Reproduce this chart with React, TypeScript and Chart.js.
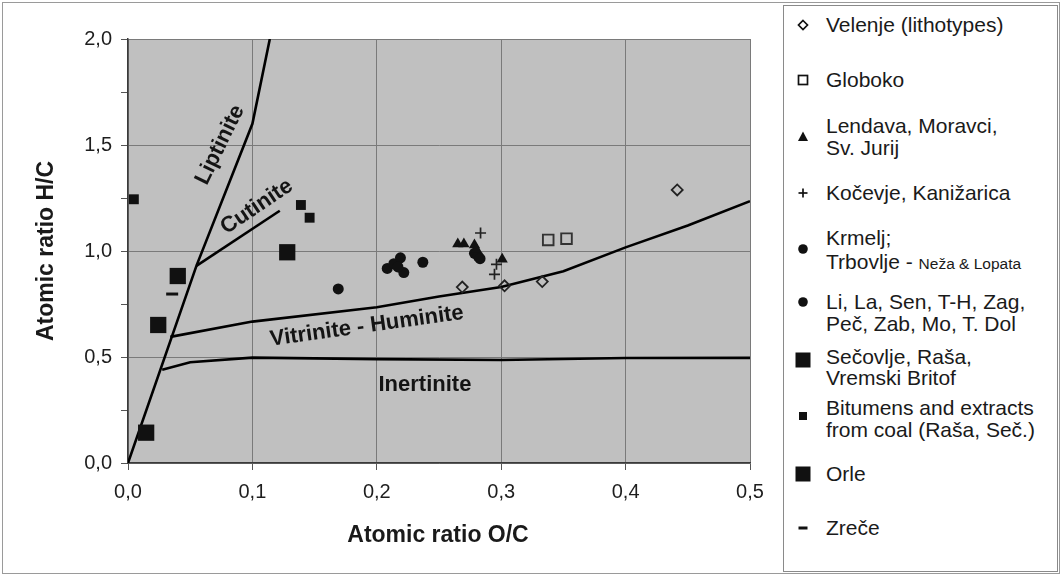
import React, { useEffect, useRef } from 'react';
import { Chart, registerables } from 'chart.js';
Chart.register(...registerables);

// ---- data (atomic ratios O/C = x, H/C = y) ----
const velenje = [{ x: 0.2687, y: 0.830 }, { x: 0.3027, y: 0.836 }, { x: 0.333, y: 0.856 }, { x: 0.4415, y: 1.288 }];
const globoko = [{ x: 0.3378, y: 1.052 }, { x: 0.3525, y: 1.058 }];
const lendava = [{ x: 0.2651, y: 1.033 }, { x: 0.2700, y: 1.033 }, { x: 0.2785, y: 1.028 }, { x: 0.2800, y: 1.008 }, { x: 0.3008, y: 0.961 }];
const kocevje = [{ x: 0.2834, y: 1.085 }, { x: 0.2962, y: 0.937 }, { x: 0.2946, y: 0.890 }];
const krmelj = [{ x: 0.2785, y: 0.989 }, { x: 0.2815, y: 0.975 }, { x: 0.2830, y: 0.964 }];
const liLa = [{ x: 0.169, y: 0.821 }, { x: 0.2084, y: 0.918 }, { x: 0.2137, y: 0.940 }, { x: 0.2190, y: 0.968 }, { x: 0.2217, y: 0.898 }, { x: 0.2170, y: 0.925 }, { x: 0.2370, y: 0.947 }];
const secovlje = [{ x: 0.0146, y: 0.143 }, { x: 0.0243, y: 0.651 }, { x: 0.0400, y: 0.882 }];
const bitumens = [{ x: 0.0047, y: 1.244 }, { x: 0.139, y: 1.217 }, { x: 0.146, y: 1.157 }];
const orle = [{ x: 0.128, y: 0.994 }];
const zrece = [{ x: 0.0355, y: 0.797 }];

// ---- maceral evolution curves ----
const liptiniteLine = [{ x: 0, y: 0 }, { x: 0.055, y: 0.93 }, { x: 0.1, y: 1.6 }, { x: 0.114, y: 2.0 }];
const cutiniteLine = [{ x: 0.055, y: 0.93 }, { x: 0.122, y: 1.19 }];
const vitriniteLine = [{ x: 0.034, y: 0.595 }, { x: 0.1, y: 0.667 }, { x: 0.2, y: 0.735 }, { x: 0.25, y: 0.785 }, { x: 0.3, y: 0.83 }, { x: 0.35, y: 0.905 }, { x: 0.4, y: 1.017 }, { x: 0.45, y: 1.12 }, { x: 0.5, y: 1.235 }];
const inertiniteLine = [{ x: 0.0275, y: 0.44 }, { x: 0.05, y: 0.475 }, { x: 0.1, y: 0.497 }, { x: 0.2, y: 0.49 }, { x: 0.3, y: 0.486 }, { x: 0.4, y: 0.495 }, { x: 0.5, y: 0.496 }];

// curve labels: text, x, y (data units), rotation (deg)
const curveLabels: [string, number, number, number][] = [
  ['Liptinite', 0.074, 1.5, -64],
  ['Cutinite', 0.1035, 1.209, -34],
  ['Vitrinite - Huminite', 0.192, 0.645, -8],
  ['Inertinite', 0.2387, 0.368, 0],
];

const xTitle = 'Atomic ratio O/C';
const yTitle = 'Atomic ratio H/C';

const FONT = '"Liberation Sans", Arial, sans-serif';

const fmt = (v: number) => v.toFixed(1).replace('.', ',');
const isHalf = (v: number) => Math.abs(v * 2 - Math.round(v * 2)) < 1e-6;

const legendItems: { lines: React.ReactNode[]; marker: string; y: number[]; my: number }[] = [
  { lines: ['Velenje (lithotypes)'], marker: 'diamond', y: [25], my: 25 },
  { lines: ['Globoko'], marker: 'osquare', y: [80], my: 80 },
  { lines: ['Lendava, Moravci,', 'Sv. Jurij'], marker: 'triangle', y: [126, 148], my: 137 },
  { lines: ['Kočevje, Kanižarica'], marker: 'plus', y: [193], my: 193 },
  { lines: ['Krmelj;', 'TRB'], marker: 'circle', y: [238, 262], my: 249 },
  { lines: ['Li, La, Sen, T-H, Zag,', 'Peč, Zab, Mo, T. Dol'], marker: 'circle', y: [302, 324], my: 302 },
  { lines: ['Sečovlje, Raša,', 'Vremski Britof'], marker: 'bigsquare', y: [357, 378], my: 360 },
  { lines: ['Bitumens and extracts', 'from coal (Raša, Seč.)'], marker: 'smallsquare', y: [408, 430], my: 416 },
  { lines: ['Orle'], marker: 'bigsquare', y: [474], my: 474 },
  { lines: ['Zreče'], marker: 'dash', y: [528], my: 528 },
];

function Marker({ kind }: { kind: string }) {
  let el: React.ReactNode = null;
  switch (kind) {
    case 'diamond':
      el = <polygon points="10,5.5 14.5,10 10,14.5 5.5,10" fill="#fff" stroke="#111" strokeWidth={1.7} />;
      break;
    case 'osquare':
      el = <rect x={5.5} y={5.5} width={9} height={9} fill="#fff" stroke="#111" strokeWidth={1.7} />;
      break;
    case 'triangle':
      el = <polygon points="10,4.5 15,14 5,14" fill="#111" />;
      break;
    case 'plus':
      el = (
        <g stroke="#111" strokeWidth={1.7}>
          <line x1={5.5} y1={10} x2={14.5} y2={10} />
          <line x1={10} y1={5.5} x2={10} y2={14.5} />
        </g>
      );
      break;
    case 'circle':
      el = <circle cx={10} cy={10} r={4.8} fill="#111" />;
      break;
    case 'bigsquare':
      el = <rect x={2.5} y={2.5} width={15} height={15} fill="#111" />;
      break;
    case 'smallsquare':
      el = <rect x={6} y={6} width={8} height={8} fill="#111" />;
      break;
    case 'dash':
      el = <rect x={5.5} y={8.5} width={9} height={3} fill="#111" />;
      break;
  }
  return (
    <svg width={20} height={20} style={{ display: 'block' }}>
      {el}
    </svg>
  );
}

export default function App() {
  const ref = useRef<HTMLCanvasElement>(null);

  useEffect(() => {
    document.body.style.margin = '0';
    const canvas = ref.current!;
    const bgPlugin = {
      id: 'bg',
      beforeDraw(chart: any) {
        const { ctx, chartArea: a } = chart;
        ctx.save();
        ctx.fillStyle = '#c0c0c0';
        ctx.fillRect(a.left, a.top, a.right - a.left, a.bottom - a.top);
        ctx.restore();
      },
      afterDraw(chart: any) {
        const { ctx, scales } = chart;
        ctx.save();
        ctx.fillStyle = '#141414';
        ctx.textAlign = 'center';
        ctx.textBaseline = 'middle';
        ctx.font = `bold 22px ${FONT}`;
        for (const [t, x, y, r] of curveLabels) {
          ctx.save();
          ctx.translate(scales.x.getPixelForValue(x), scales.y.getPixelForValue(y));
          ctx.rotate((r * Math.PI) / 180);
          ctx.fillText(t, 0, 0);
          ctx.restore();
        }
        ctx.font = `bold 23px ${FONT}`;
        ctx.fillStyle = '#1a1a1a';
        ctx.fillText(xTitle, 438, 536);
        ctx.save();
        ctx.translate(47, 251);
        ctx.rotate(-Math.PI / 2);
        ctx.fillText(yTitle, 0, 0);
        ctx.restore();
        ctx.restore();
      },
    };

    const pts = (data: any[], style: any, radius: number, extra: any = {}) => ({
      type: 'scatter',
      data,
      pointStyle: style,
      pointRadius: radius,
      pointHoverRadius: radius,
      backgroundColor: '#111',
      borderColor: '#111',
      borderWidth: 0,
      ...extra,
    });
    const curve = (data: any[]) => ({
      type: 'line',
      data,
      showLine: true,
      borderColor: '#000',
      borderWidth: 2.6,
      pointRadius: 0,
      fill: false,
      tension: 0,
    });

    const chart = new Chart(canvas, {
      type: 'scatter',
      data: {
        datasets: [
          pts(velenje, 'rectRot', 5.5, { backgroundColor: 'rgba(0,0,0,0)', borderColor: '#222', borderWidth: 1.8 }),
          pts(globoko, 'rect', 7.5, { backgroundColor: 'rgba(0,0,0,0)', borderColor: '#333', borderWidth: 1.9 }),
          pts(lendava, 'triangle', 6.5),
          pts(kocevje, 'cross', 5.5, { borderWidth: 1.7, borderColor: '#222' }),
          pts(krmelj, 'circle', 5.5),
          pts(liLa, 'circle', 5.5),
          pts(secovlje, 'rect', 11.5),
          pts(bitumens, 'rect', 7),
          pts(orle, 'rect', 11.5),
          pts(zrece, 'line', 6, { borderWidth: 3 }),
          curve(liptiniteLine),
          curve(cutiniteLine),
          curve(vitriniteLine),
          curve(inertiniteLine),
        ] as any,
      },
      options: {
        responsive: false,
        animation: false,
        devicePixelRatio: 1,
        layout: { padding: { left: 0, right: 30, top: 39, bottom: 0 } },
        plugins: { legend: { display: false }, tooltip: { enabled: false } },
        scales: {
          x: {
            type: 'linear',
            min: 0,
            max: 0.5,
            afterFit: (s: any) => { s.height = 113; },
            ticks: {
              stepSize: 0.1,
              padding: 10,
              color: '#1e1e1e',
              font: { family: FONT, size: 20 },
              callback: (v: any) => fmt(Number(v)),
            },
            grid: { color: '#7a7a7a', lineWidth: 1, tickLength: 7, tickColor: '#555' },
            border: { color: '#3a3a3a', width: 1.5 },
          },
          y: {
            type: 'linear',
            min: 0,
            max: 2,
            afterFit: (s: any) => { s.width = 128; },
            ticks: {
              stepSize: 0.25,
              padding: 9,
              color: '#1e1e1e',
              font: { family: FONT, size: 20 },
              callback: (v: any) => (isHalf(Number(v)) ? fmt(Number(v)) : ''),
            },
            grid: {
              color: (c: any) => (c.tick && isHalf(c.tick.value) ? '#7a7a7a' : 'rgba(0,0,0,0)'),
              lineWidth: 1,
              tickLength: 7,
              tickColor: '#555',
            },
            border: { color: '#3a3a3a', width: 1.5 },
          },
        },
      },
      plugins: [bgPlugin],
    } as any);
    return () => chart.destroy();
  }, []);

  return (
    <div style={{ position: 'relative', width: 1062, height: 576, background: '#fff', overflow: 'hidden', fontFamily: FONT }}>
      <div style={{ position: 'absolute', left: 2, top: 2, width: 1056, height: 570, border: '1px solid #9a9a9a' }} />
      <canvas ref={ref} width={780} height={576} style={{ position: 'absolute', left: 0, top: 0, width: 780, height: 576 }} />
      <div style={{ position: 'absolute', left: 783, top: 5, width: 273, height: 565, border: '1px solid #8a8a8a', background: '#fff' }} />
      {legendItems.map((it, i) => (
        <React.Fragment key={i}>
          <div style={{ position: 'absolute', left: 793, top: it.my - 10 }}>
            <Marker kind={it.marker} />
          </div>
          {it.lines.map((ln, j) => (
            <div
              key={j}
              style={{ position: 'absolute', left: 826, top: it.y[j] - 12, height: 24, lineHeight: '24px', fontSize: 21, color: '#1a1a1a', whiteSpace: 'nowrap' }}
            >
              {ln === 'TRB' ? (
                <span>
                  Trbovlje - <span style={{ fontSize: 15.5 }}>Neža &amp; Lopata</span>
                </span>
              ) : (
                ln
              )}
            </div>
          ))}
        </React.Fragment>
      ))}
    </div>
  );
}
